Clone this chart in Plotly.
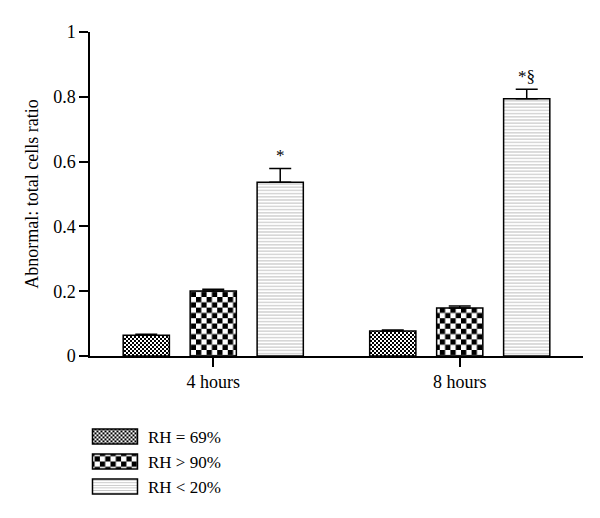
import plotly.graph_objects as go

categories = ["4 hours", "8 hours"]
series_names = ["RH = 69%", "RH > 90%", "RH < 20%"]
rh69 = [0.064, 0.077]
rh69_err = [0.003, 0.003]
rh90 = [0.201, 0.148]
rh90_err = [0.005, 0.006]
rh20 = [0.536, 0.794]
rh20_err = [0.043, 0.029]
marks = ["*", "*§"]

FONT = "Liberation Serif"

fig = go.Figure()
vals = [rh69, rh90, rh20]
errs = [rh69_err, rh90_err, rh20_err]
for i, (name, v, e) in enumerate(zip(series_names, vals, errs)):
    marker = dict(color="white", line=dict(color="black", width=1.5))
    if i == 2:
        marker["pattern"] = dict(shape="-", size=3.2, solidity=0.3, fgcolor="#777777", bgcolor="white")
    fig.add_trace(go.Bar(
        x=categories, y=v, name=name, marker=marker,
        error_y=dict(type="data", array=e, symmetric=False, arrayminus=[0]*len(e),
                     color="black", thickness=1.5, width=11),
    ))

for c, v, e, m in zip(categories, rh20, rh20_err, marks):
    fig.add_annotation(x=c, y=v + e, text=m, showarrow=False, xref="x", yref="y",
                       yanchor="bottom", xshift=67, yshift=1,
                       font=dict(family=FONT, size=17, color="black"))

fig.update_layout(
    width=600, height=518,
    margin=dict(l=90, r=17, t=32, b=162, autoexpand=False),
    plot_bgcolor="white", paper_bgcolor="white",
    barmode="group", bargap=0.185, bargroupgap=0.31,
    font=dict(family=FONT, size=18, color="black"),
    showlegend=True,
    legend=dict(x=-0.0345, y=-0.194, xanchor="left", yanchor="top",
                font=dict(family=FONT, size=17), tracegroupgap=0,
                itemwidth=65, bgcolor="rgba(0,0,0,0)"),
)
fig.update_xaxes(showline=True, linecolor="black", linewidth=1.5,
                 ticks="outside", ticklen=9, tickwidth=1.5, tickcolor="black",
                 tickfont=dict(family=FONT, size=18), showgrid=False, zeroline=False)
fig.update_yaxes(range=[0, 1], tickvals=[0, 0.2, 0.4, 0.6, 0.8, 1],
                 ticktext=["0", "0.2", "0.4", "0.6", "0.8", "1"],
                 showline=True, linecolor="black", linewidth=1.5,
                 ticks="outside", ticklen=9, tickwidth=1.5, tickcolor="black",
                 tickfont=dict(family=FONT, size=18), showgrid=False, zeroline=False,
                 title=dict(text="Abnormal: total cells ratio", font=dict(family=FONT, size=18), standoff=10))

post = r"""
document.body.style.margin = '0';
var gd = document.getElementById('{plot_id}');
var NS = 'http://www.w3.org/2000/svg';
var svg = gd.querySelector('svg.main-svg');
var defs = svg.querySelector('defs');
function checker(id, s) {
  var p = document.createElementNS(NS, 'pattern');
  p.setAttribute('id', id); p.setAttribute('patternUnits', 'userSpaceOnUse');
  p.setAttribute('width', 2*s); p.setAttribute('height', 2*s);
  var bg = document.createElementNS(NS, 'rect');
  bg.setAttribute('width', 2*s); bg.setAttribute('height', 2*s); bg.setAttribute('fill', 'white');
  p.appendChild(bg);
  [[0,0],[s,s]].forEach(function(xy){
    var r = document.createElementNS(NS, 'rect');
    r.setAttribute('x', xy[0]); r.setAttribute('y', xy[1]);
    r.setAttribute('width', s); r.setAttribute('height', s); r.setAttribute('fill', 'black');
    p.appendChild(r);
  });
  defs.appendChild(p);
}
checker('chkfine', 2);
checker('chkcoarse', 5.3);
var pats = ['url(#chkfine)', 'url(#chkcoarse)'];
var traces = gd.querySelectorAll('.barlayer .trace');
pats.forEach(function(u, i){
  traces[i].querySelectorAll('.point path').forEach(function(e){ e.style.fill = u; });
});
var items = gd.querySelectorAll('.legend .traces');
items.forEach(function(it, i){
  it.querySelectorAll('.legendpoints path').forEach(function(e){
    e.setAttribute('d', 'M-18,7.5H27V-7.5H-18Z');
    e.style.strokeWidth = '1.5px';
    if (i < 2) e.style.fill = pats[i];
  });
});
"""
fig.write_html("out.html", post_script=post, config={"displayModeBar": False})
